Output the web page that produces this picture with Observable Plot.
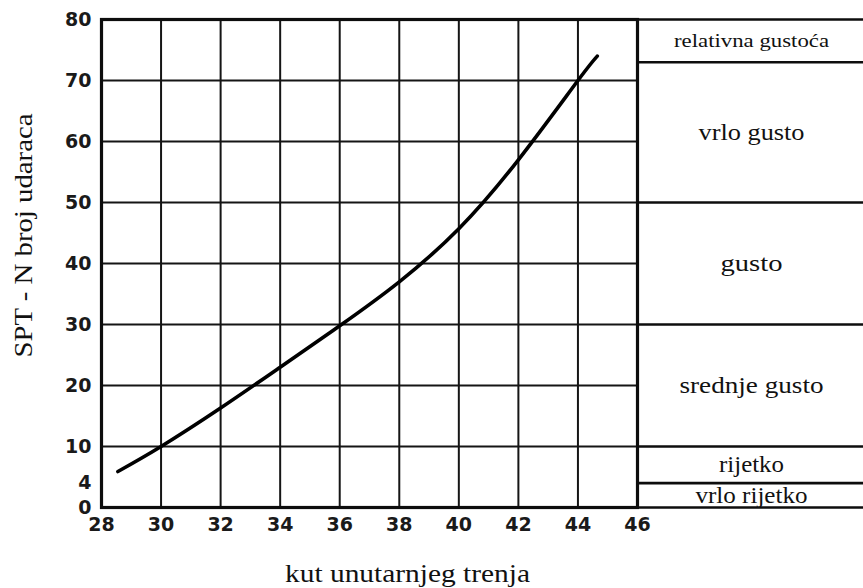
<!DOCTYPE html>
<html>
<head>
<meta charset="utf-8">
<script src="https://cdn.jsdelivr.net/npm/d3@7"></script>
<script src="https://cdn.jsdelivr.net/npm/@observablehq/plot@0.6"></script>
<style>
  html, body { margin: 0; padding: 0; background: #fff; }
  #wrap { display: flex; flex-direction: row; width: 863px; height: 588px; overflow: hidden; }
  svg { display: block; }
  #wrap text.serif { font-family: "Liberation Serif", "DejaVu Serif", serif !important; }
</style>
</head>
<body>
<div id="wrap"></div>
<script>
// ---- data ----
const phi = [28.55, 30, 32, 34, 36, 38, 40, 42, 44, 44.65];
const spt = [5.9, 10, 16.3, 23, 29.8, 37, 45.7, 57, 70, 74];
const xTicks = [28, 30, 32, 34, 36, 38, 40, 42, 44, 46];
const yTicks = [0, 4, 10, 20, 30, 40, 50, 60, 70, 80];
const yGrid = [10, 20, 30, 40, 50, 60, 70];
const densityLabels = ["vrlo rijetko", "rijetko", "srednje gusto", "gusto", "vrlo gusto"];
const densityFrom = [0, 4, 10, 30, 50];
const densityTo = [4, 10, 30, 50, 73];
const headerLabel = "relativna gustoća";
const headerFrom = 73, headerTo = 80;
const xLabel = "kut unutarnjeg trenja";
const yLabel = "SPT - N broj udaraca";

const curve = phi.map((p, i) => ({phi: p, n: spt[i]}));
const bands = densityLabels.map((t, i) => ({label: t, mid: (densityFrom[i] + densityTo[i]) / 2}));
const boundaries = [...densityFrom, headerFrom, headerTo];

const ink = "#151515";
const serif = "Liberation Serif";

const main = Plot.plot({
  width: 639, height: 588,
  marginLeft: 101, marginRight: 2, marginTop: 19, marginBottom: 81,
  x: {domain: [28, 46]},
  y: {domain: [0, 80]},
  style: {background: "transparent", fontFamily: "'DejaVu Sans', sans-serif", overflow: "visible", color: "#111"},
  marks: [
    Plot.ruleX(xTicks, {stroke: ink, strokeWidth: 2}),
    Plot.ruleY(yGrid, {stroke: ink, strokeWidth: 2}),
    Plot.frame({stroke: "#0d0d0d", strokeWidth: 3.2}),
    Plot.line(curve, {x: "phi", y: "n", curve: "natural", stroke: "#000", strokeWidth: 3.6}),
    Plot.axisX({ticks: xTicks, tickSize: 0, tickPadding: 10, fontSize: 19, fontWeight: "bold", label: null, fill: "#1a1a1a"}),
    Plot.axisY({ticks: yTicks, tickSize: 0, tickPadding: 10, fontSize: 19, fontWeight: "bold", label: null, fill: "#1a1a1a"}),
    Plot.text([xLabel], {text: d => d, frameAnchor: "bottom", textAnchor: "middle", lineAnchor: "middle", dx: 38, dy: 66, fontSize: 25, fontFamily: serif, fill: "#111"}),
    Plot.text([yLabel], {text: d => d, frameAnchor: "left", textAnchor: "middle", lineAnchor: "middle", rotate: -90, dx: -78, dy: -28, fontSize: 25, fontFamily: serif, fill: "#111"})
  ]
});

const panel = Plot.plot({
  width: 224, height: 588,
  marginLeft: 0, marginRight: 0, marginTop: 19, marginBottom: 81,
  x: {domain: [0, 1], axis: null},
  y: {domain: [0, 80], axis: null},
  style: {background: "transparent", overflow: "visible", fontFamily: serif},
  marks: [
    Plot.ruleY(boundaries, {stroke: "#0d0d0d", strokeWidth: 2.6}),
    Plot.text(bands, {y: "mid", text: "label", fontSize: 23, fontFamily: serif, fill: "#111"}),
    Plot.text([headerLabel], {y: [(headerFrom + headerTo) / 2], text: d => d, fontSize: 18, fontFamily: serif, fill: "#111"})
  ]
});

const wrap = document.getElementById("wrap");
wrap.appendChild(main);
wrap.appendChild(panel);

// serif labels, stretched to the widths they have in the reference
const lengths = {
  "kut unutarnjeg trenja": 245,
  "SPT - N broj udaraca": 244,
  "relativna gustoća": 155,
  "vrlo gusto": 106,
  "gusto": 62,
  "srednje gusto": 144,
  "rijetko": 65,
  "vrlo rijetko": 112
};
d3.selectAll("#wrap text").each(function() {
  const t = this.textContent.trim();
  if (lengths[t]) {
    this.classList.add("serif");
    this.style.fontFamily = "'Liberation Serif', 'DejaVu Serif', serif";
    this.setAttribute("textLength", lengths[t]);
    this.setAttribute("lengthAdjust", "spacingAndGlyphs");
  }
});
</script>
</body>
</html>
